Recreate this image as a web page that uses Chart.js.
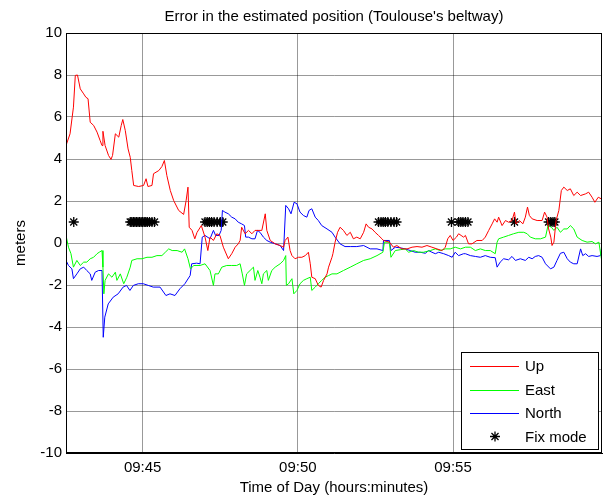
<!DOCTYPE html>
<html>
<head>
<meta charset="utf-8">
<script src="https://cdn.jsdelivr.net/npm/chart.js@4.4.1/dist/chart.umd.min.js"></script>
<style>
  body { margin: 0; background: #fff; }
  #wrap { width: 609px; height: 497px; }
</style>
</head>
<body>
<div id="wrap"><canvas id="c" width="609" height="497"></canvas></div>
<script>
// time axis: minutes after 09:40
const xTickVals = [5, 10, 15];
const xTickLabels = ['09:45', '09:50', '09:55'];
const yTickStep = 2;

const upTime = [2.53,2.66,2.77,2.83,2.90,2.99,3.10,3.17,3.24,3.31,3.42,3.53,3.63,3.69,3.72,3.79,3.90,3.98,4.03,4.12,4.23,4.31,4.36,4.44,4.53,4.60,4.65,4.71,4.87,5.03,5.11,5.17,5.30,5.35,5.52,5.62,5.70,5.78,5.89,6.00,6.16,6.32,6.40,6.46,6.50,6.59,6.68,6.75,6.89,7.01,7.10,7.17,7.28,7.39,7.49,7.60,7.76,7.87,7.98,8.08,8.14,8.19,8.30,8.41,8.52,8.62,8.84,8.95,9.00,9.11,9.27,9.43,9.54,9.59,9.68,9.75,9.81,9.91,10.02,10.13,10.24,10.34,10.40,10.45,10.56,10.66,10.75,10.83,10.94,10.99,11.10,11.13,11.20,11.28,11.36,11.47,11.58,11.69,11.79,11.90,12.01,12.12,12.20,12.28,12.39,12.49,12.60,12.71,12.76,12.95,13.08,13.19,13.35,13.52,13.68,13.84,14.00,14.16,14.32,14.48,14.65,14.75,14.83,14.91,15.00,15.11,15.18,15.26,15.34,15.40,15.50,15.61,15.77,15.94,16.04,16.15,16.26,16.34,16.42,16.47,16.58,16.69,16.79,16.90,16.98,17.03,17.14,17.25,17.33,17.40,17.46,17.55,17.71,17.87,17.95,18.03,18.08,18.15,18.19,18.25,18.32,18.41,18.49,18.57,18.68,18.78,18.89,19.00,19.11,19.27,19.37,19.48,19.57,19.68,19.78];
const upVal = [4.64,5.2,6.47,7.98,8.0,7.34,7.1,6.94,6.87,5.75,5.6,5.28,4.88,4.64,5.32,4.64,4.17,3.98,4.17,5.2,5.04,5.6,5.88,5.36,4.48,4.08,3.45,2.74,2.69,2.74,3.06,2.69,2.74,3.3,3.45,3.64,3.93,3.21,2.5,2.02,1.55,1.36,2.02,2.66,0.75,0.6,0.2,0.5,0.83,0.28,-0.36,0.28,0.12,0.44,0.36,-0.2,-0.75,-0.51,-0.2,-0.04,0.12,0.75,0.44,0.6,0.44,0.6,0.6,1.39,0.6,0.12,-0.04,-0.12,-0.2,0.12,0.28,-0.36,-0.6,-0.75,-0.68,-0.68,-0.6,-0.44,-0.99,-1.63,-1.7,-2.02,-2.1,-1.78,-1.47,-1.15,-0.68,-0.51,0.04,0.51,0.75,0.6,0.36,0.51,0.2,0.28,0.2,0.51,0.91,0.75,0.67,0.51,0.36,0.2,0.12,0.04,-0.2,-0.12,-0.28,-0.28,-0.2,-0.17,-0.2,-0.12,-0.2,-0.28,-0.36,-0.2,0.2,0.36,0.12,0.28,0.44,0.36,0.28,0.36,-0.04,-0.04,0.12,0.12,0.28,0.6,0.91,1.15,0.99,1.23,0.83,1.07,0.99,1.07,1.47,0.91,1.07,0.91,1.23,1.71,1.31,1.15,1.07,1.07,1.47,1.23,0.67,0.28,-0.12,0.04,1.07,1.55,2.5,2.66,2.5,2.58,2.26,2.42,2.26,2.34,2.42,2.18,1.94,2.18,2.1];

const eastTime = [2.53,2.61,2.69,2.77,2.88,2.99,3.10,3.20,3.31,3.42,3.53,3.60,3.69,3.72,3.75,3.79,3.90,4.01,4.12,4.17,4.28,4.39,4.49,4.60,4.65,4.82,4.98,5.14,5.30,5.46,5.62,5.73,5.84,5.95,6.11,6.27,6.35,6.46,6.54,6.65,6.75,6.85,7.01,7.17,7.28,7.33,7.44,7.55,7.71,7.87,8.03,8.14,8.21,8.28,8.35,8.46,8.57,8.62,8.71,8.78,8.84,8.89,9.00,9.05,9.16,9.27,9.43,9.54,9.61,9.63,9.70,9.81,9.87,9.97,10.07,10.18,10.29,10.40,10.45,10.56,10.66,10.77,10.88,10.99,11.10,11.26,11.47,11.69,11.90,12.12,12.33,12.55,12.74,12.79,12.95,13.00,13.14,13.30,13.46,13.57,13.73,13.89,14.05,14.27,14.43,14.59,14.75,14.91,15.07,15.24,15.40,15.56,15.72,15.88,16.04,16.20,16.36,16.42,16.47,16.63,16.79,16.95,17.12,17.28,17.39,17.49,17.65,17.82,17.98,18.06,18.17,18.25,18.35,18.46,18.57,18.68,18.78,18.89,19.00,19.16,19.32,19.48,19.59,19.70,19.78];
const eastVal = [0.36,-0.2,-0.51,-1.15,-0.83,-1.07,-0.91,-0.91,-0.75,-0.68,-0.51,-0.44,-0.36,-1.15,-2.42,-1.78,-1.47,-1.63,-1.39,-1.78,-1.47,-1.94,-1.63,-1.15,-0.83,-0.75,-0.75,-0.68,-0.68,-0.6,-0.6,-0.44,-0.28,-0.36,-0.36,-0.44,-0.28,-0.75,-1.23,-1.07,-1.07,-1.07,-0.99,-1.31,-2.02,-1.47,-1.47,-1.15,-1.07,-1.07,-1.07,-0.99,-1.47,-2.02,-1.47,-1.31,-1.15,-1.78,-1.31,-1.63,-1.94,-1.47,-1.31,-1.78,-1.31,-1.15,-0.99,-0.83,-0.6,-2.02,-1.94,-1.7,-2.42,-2.26,-1.94,-1.78,-1.7,-1.63,-2.26,-2.1,-1.94,-1.78,-1.63,-1.55,-1.47,-1.47,-1.31,-1.15,-0.99,-0.83,-0.75,-0.6,-0.44,0.04,0.04,-0.68,-0.36,-0.32,-0.28,-0.44,-0.36,-0.44,-0.44,-0.36,-0.28,-0.36,-0.28,-0.28,-0.2,-0.28,-0.2,-0.2,-0.36,-0.28,-0.36,-0.36,-0.51,0.04,0.2,0.28,0.36,0.44,0.51,0.51,0.44,0.28,0.2,0.2,0.28,0.83,0.75,0.6,0.75,0.51,0.67,0.67,0.83,0.67,0.28,0.12,0.04,0.07,-0.04,0.04,-0.75];

const northTime = [2.53,2.61,2.72,2.77,2.88,2.99,3.10,3.20,3.31,3.36,3.47,3.58,3.69,3.73,3.78,3.89,4.05,4.21,4.37,4.48,4.59,4.70,4.86,5.02,5.18,5.34,5.56,5.75,5.88,6.04,6.20,6.36,6.53,6.58,6.74,6.85,6.92,7.01,7.17,7.28,7.35,7.46,7.53,7.57,7.65,7.76,7.87,7.98,8.08,8.19,8.28,8.32,8.41,8.52,8.62,8.70,8.78,8.89,9.00,9.11,9.27,9.43,9.54,9.61,9.70,9.78,9.88,9.97,10.07,10.18,10.29,10.36,10.45,10.56,10.66,10.77,10.94,11.10,11.20,11.36,11.52,11.69,11.90,12.12,12.33,12.55,12.74,12.76,12.95,13.00,13.14,13.30,13.46,13.62,13.78,13.94,14.11,14.21,14.32,14.43,14.54,14.70,14.86,14.97,15.07,15.18,15.34,15.40,15.56,15.72,15.88,16.04,16.20,16.36,16.42,16.52,16.63,16.79,16.90,17.01,17.17,17.33,17.44,17.55,17.65,17.76,17.87,17.98,18.14,18.25,18.35,18.46,18.57,18.68,18.78,18.89,19.00,19.11,19.18,19.27,19.37,19.48,19.64,19.75,19.78];
const northVal = [-0.83,-1.07,-1.23,-1.7,-1.47,-1.23,-1.15,-1.31,-1.47,-1.78,-1.39,-1.31,-1.31,-4.49,-3.53,-2.9,-2.58,-2.42,-2.1,-2.02,-2.26,-2.02,-1.94,-1.94,-2.02,-2.1,-2.1,-2.5,-2.42,-2.5,-2.18,-1.94,-1.55,-0.99,-0.96,-0.99,0.28,0.36,0.2,0.6,0.36,0.36,0.6,1.55,1.47,1.39,1.23,1.15,0.99,0.91,0.83,0.28,0.28,0.2,0.2,0.6,0.51,0.28,0.12,0.04,-0.04,-0.12,-0.36,1.79,1.63,1.39,1.94,1.87,1.47,1.31,1.23,1.55,1.63,1.23,1.07,0.83,0.67,0.51,0.28,-0.04,-0.17,-0.17,-0.17,-0.12,-0.28,-0.28,-0.36,0.12,0.12,-0.36,-0.2,-0.23,-0.28,-0.36,-0.44,-0.44,-0.49,-0.36,-0.44,-0.51,-0.44,-0.51,-0.6,-0.68,-0.44,-0.6,-0.51,-0.51,-0.6,-0.64,-0.68,-0.6,-0.68,-0.7,-1.15,-0.91,-0.75,-0.8,-0.64,-0.83,-0.75,-0.83,-0.68,-0.75,-0.64,-0.6,-0.68,-0.99,-1.23,-1.15,-0.83,-0.49,-0.44,-0.75,-0.91,-0.99,-0.99,-0.28,-0.6,-0.51,-0.64,-0.6,-0.64,-0.6,-0.28];

const fixTime = [2.78,4.60,4.65,4.70,4.75,4.80,4.85,4.90,4.95,5.00,5.05,5.10,5.15,5.22,5.30,5.38,7.01,7.08,7.15,7.22,7.30,7.40,7.50,7.58,12.60,12.68,12.75,12.82,12.90,13.00,13.10,13.18,14.95,15.18,15.25,15.32,15.40,15.48,16.98,18.08,18.15,18.22,18.28];
const fixVal = [1,1,1,1,1,1,1,1,1,1,1,1,1,1,1,1,1,1,1,1,1,1,1,1,1,1,1,1,1,1,1,1,1,1,1,1,1,1,1,1,1,1,1];

const FONT = "'Liberation Sans', Arial, sans-serif";

function toXY(ts, vs) {
    return ts.map((t, i) => ({ x: t, y: vs[i] }));
}

const legendItems = [
    { label: 'Up', color: '#ff0000', type: 'line' },
    { label: 'East', color: '#00ff00', type: 'line' },
    { label: 'North', color: '#0000ff', type: 'line' },
    { label: 'Fix mode', color: '#000000', type: 'star' }
];

function drawStar(ctx, x, y, r) {
    const d = r * Math.SQRT1_2;
    ctx.beginPath();
    ctx.moveTo(x - r, y); ctx.lineTo(x + r, y);
    ctx.moveTo(x, y - r); ctx.lineTo(x, y + r);
    ctx.moveTo(x - d, y - d); ctx.lineTo(x + d, y + d);
    ctx.moveTo(x - d, y + d); ctx.lineTo(x + d, y - d);
    ctx.stroke();
}

const framePlugin = {
    id: 'frame',
    afterDraw(chart) {
        const ctx = chart.ctx;
        const a = chart.chartArea;
        ctx.save();
        // title
        ctx.fillStyle = '#000';
        ctx.font = '15px ' + FONT;
        ctx.textAlign = 'center';
        ctx.textBaseline = 'middle';
        ctx.fillText("Error in the estimated position (Toulouse's beltway)", (a.left + a.right) / 2, 17);
        // box
        ctx.strokeStyle = '#000';
        ctx.lineWidth = 1;
        ctx.strokeRect(Math.round(a.left) + 0.5, Math.round(a.top) + 0.5, Math.round(a.right - a.left) - 1, Math.round(a.bottom - a.top) - 1);
        // legend
        const lx = 461, ly = 352, lw = 137, lh = 97;
        ctx.fillStyle = '#fff';
        ctx.fillRect(lx, ly, lw, lh);
        ctx.strokeRect(lx + 0.5, ly + 0.5, lw, lh);
        const rows = [366, 389.5, 412.5, 436.5];
        ctx.textAlign = 'left';
        legendItems.forEach((it, i) => {
            const y = rows[i];
            ctx.strokeStyle = it.color;
            if (it.type === 'line') {
                ctx.beginPath();
                ctx.moveTo(470, Math.round(y) + 0.5);
                ctx.lineTo(519, Math.round(y) + 0.5);
                ctx.stroke();
            } else {
                ctx.lineWidth = 1.3;
                drawStar(ctx, 495, y, 5);
                ctx.lineWidth = 1;
            }
            ctx.fillStyle = '#000';
            ctx.fillText(it.label, 525, y + 1);
        });
        ctx.restore();
    }
};

function lineSet(label, color, ts, vs) {
    return {
        label: label,
        data: toXY(ts, vs),
        borderColor: color,
        backgroundColor: color,
        borderWidth: 1,
        showLine: true,
        pointRadius: 0,
        tension: 0
    };
}

new Chart(document.getElementById('c'), {
    type: 'scatter',
    data: {
        datasets: [
            lineSet('Up', '#ff0000', upTime, upVal),
            lineSet('East', '#00ff00', eastTime, eastVal),
            lineSet('North', '#0000ff', northTime, northVal),
            {
                label: 'Fix mode',
                data: toXY(fixTime, fixVal),
                showLine: false,
                pointStyle: 'star',
                pointRadius: 5,
                borderColor: '#000',
                backgroundColor: '#000',
                borderWidth: 1.3
            }
        ]
    },
    options: {
        responsive: false,
        animation: false,
        events: [],
        layout: { padding: { left: 0, top: 33, right: 7, bottom: 0 } },
        plugins: {
            legend: { display: false },
            title: { display: false },
            tooltip: { enabled: false }
        },
        scales: {
            x: {
                type: 'linear',
                min: 2.53,
                max: 19.8,
                afterBuildTicks: scale => { scale.ticks = xTickVals.map(v => ({ value: v })); },
                afterFit: scale => { scale.height = 44; },
                ticks: {
                    color: '#000',
                    font: { family: FONT, size: 15 },
                    padding: 6,
                    maxRotation: 0,
                    callback: (v, i) => xTickLabels[i]
                },
                grid: { color: 'rgba(0,0,0,0.4)', drawTicks: false },
                border: { color: '#000' },
                title: {
                    display: true,
                    text: 'Time of Day (hours:minutes)',
                    color: '#000',
                    font: { family: FONT, size: 15 },
                    padding: { top: 0, bottom: 0 }
                }
            },
            y: {
                min: -10,
                max: 10,
                afterFit: scale => { scale.width = 66; },
                ticks: {
                    stepSize: yTickStep,
                    color: '#000',
                    font: { family: FONT, size: 15 },
                    padding: 4
                },
                grid: { color: 'rgba(0,0,0,0.4)', drawTicks: false },
                border: { color: '#000' },
                title: {
                    display: true,
                    text: 'meters',
                    color: '#000',
                    font: { family: FONT, size: 15 },
                    padding: { top: 12, bottom: 0 }
                }
            }
        }
    },
    plugins: [framePlugin]
});
</script>
</body>
</html>
